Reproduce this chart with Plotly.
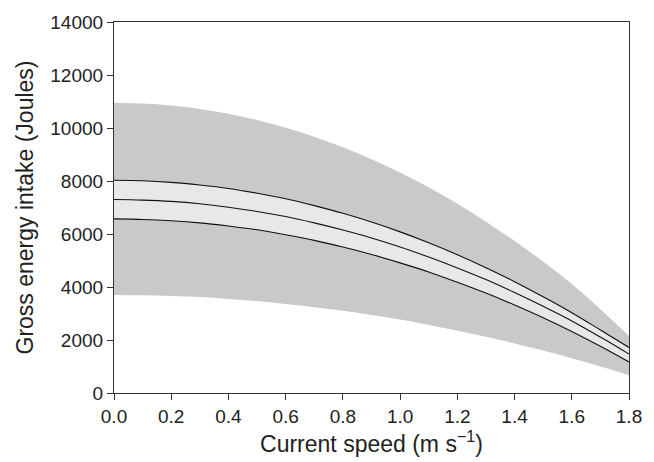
import plotly.graph_objects as go

speed = [0.0, 0.1, 0.2, 0.3, 0.4, 0.5, 0.6, 0.7, 0.8, 0.9,
         1.0, 1.1, 1.2, 1.3, 1.4, 1.5, 1.6, 1.7, 1.8]

mean_energy = [7300, 7280, 7230, 7140, 7010, 6850, 6660, 6420, 6150, 5850,
               5510, 5130, 4720, 4280, 3790, 3270, 2720, 2110, 1470]
ci_upper = [8030, 8010, 7950, 7850, 7720, 7540, 7330, 7070, 6780, 6450,
            6080, 5670, 5220, 4730, 4200, 3630, 3030, 2380, 1720]
ci_lower = [6570, 6550, 6500, 6420, 6300, 6160, 5970, 5760, 5510, 5230,
            4910, 4570, 4180, 3770, 3320, 2840, 2320, 1760, 1170]
pi_upper = [10950, 10920, 10850, 10720, 10540, 10300, 10010, 9670, 9270, 8820,
            8320, 7760, 7140, 6460, 5740, 4960, 4110, 3160, 2150]
pi_lower = [3700, 3690, 3660, 3620, 3550, 3470, 3360, 3240, 3100, 2940,
            2770, 2570, 2350, 2120, 1870, 1600, 1310, 1000, 670]

x_ticks = [0.0, 0.2, 0.4, 0.6, 0.8, 1.0, 1.2, 1.4, 1.6, 1.8]
y_ticks = [0, 2000, 4000, 6000, 8000, 10000, 12000, 14000]

FONT = "Liberation Sans, Arial, Helvetica, sans-serif"
AX = "#333333"

fig = go.Figure()
fig.add_trace(go.Scatter(x=speed, y=pi_lower, mode="lines", line=dict(width=0, shape="spline"),
                         showlegend=False, hoverinfo="skip"))
fig.add_trace(go.Scatter(x=speed, y=pi_upper, mode="lines", line=dict(width=0, shape="spline"),
                         fill="tonexty", fillcolor="#c8c9cb", showlegend=False, hoverinfo="skip"))
fig.add_trace(go.Scatter(x=speed, y=ci_lower, mode="lines", line=dict(width=0, shape="spline"),
                         showlegend=False, hoverinfo="skip"))
fig.add_trace(go.Scatter(x=speed, y=ci_upper, mode="lines", line=dict(width=0, shape="spline"),
                         fill="tonexty", fillcolor="#e8e8e8", showlegend=False, hoverinfo="skip"))
for series in (ci_lower, mean_energy, ci_upper):
    fig.add_trace(go.Scatter(x=speed, y=series, mode="lines",
                             line=dict(color="#111111", width=1.1, shape="spline"),
                             showlegend=False))

fig.update_layout(
    width=654, height=462,
    margin=dict(l=114, r=20, t=19, b=69),
    paper_bgcolor="white", plot_bgcolor="white",
    font=dict(family=FONT, size=19, color="#222222"),
)
fig.update_xaxes(
    range=[0, 1.8], tickvals=x_ticks, ticktext=[f"{v:.1f}" for v in x_ticks],
    showline=True, mirror=True, linecolor=AX, linewidth=1.2,
    ticks="outside", ticklen=6, tickcolor=AX, tickwidth=1.2,
    showgrid=False, zeroline=False,
    title=dict(text="Current speed (m s<sup>−1</sup>)", font=dict(size=23), standoff=5),
)
fig.update_yaxes(
    range=[0, 14000], tickvals=y_ticks, ticktext=[str(v) for v in y_ticks],
    showline=True, mirror=True, linecolor=AX, linewidth=1.2,
    ticks="outside", ticklen=6, tickcolor=AX, tickwidth=1.2,
    showgrid=False, zeroline=False,
    title=dict(text="Gross energy intake (Joules)", font=dict(size=23), standoff=10),
)

fig.write_html("out.html", config={"displayModeBar": False},
               post_script="document.body.style.margin='0';")
